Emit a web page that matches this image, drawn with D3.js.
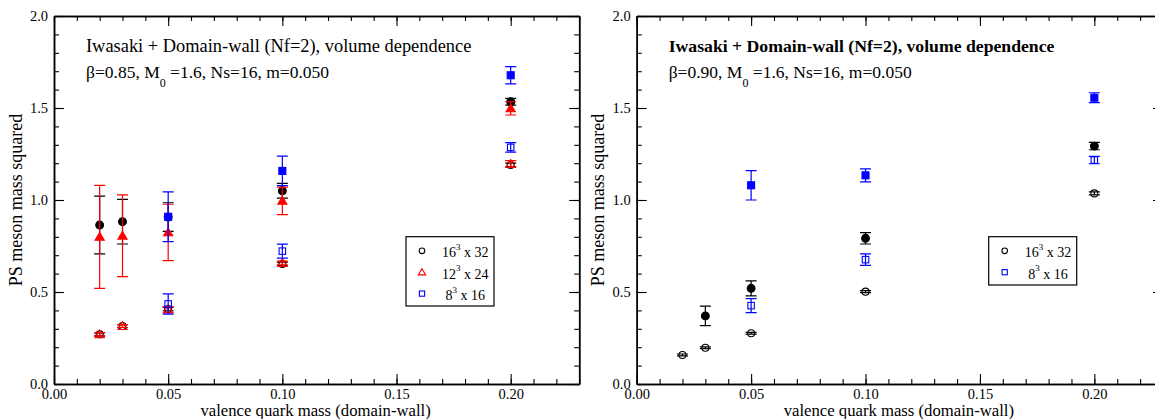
<!DOCTYPE html>
<html>
<head>
<meta charset="utf-8">
<script src="https://cdn.jsdelivr.net/npm/d3@7"></script>
<style>
body { margin: 0; background: #fff; }
svg { display: block; font-family: "Liberation Serif", "Times New Roman", serif; }
text { white-space: pre; }
</style>
</head>
<body>
<div id="chart"></div>
<script>

// valence quark masses
var mass5 = [0.02, 0.03, 0.05, 0.10, 0.20];
var mass4 = [0.03, 0.05, 0.10, 0.20];
var mass3 = [0.05, 0.10, 0.20];

// beta = 0.85
var b085_16_open = [0.270, 0.315, 0.408, 0.652, 1.190];
var b085_16_openErr = [0.008, 0.008, 0.010, 0.010, 0.010];
var b085_16_fill = [0.864, 0.882, 0.907, 1.050, 1.534];
var b085_16_fillErr = [0.157, 0.121, 0.078, 0.040, 0.018];
var b085_12_open = [0.270, 0.315, 0.405, 0.658, 1.196];
var b085_12_openErr = [0.010, 0.008, 0.015, 0.010, 0.018];
var b085_12_fill = [0.800, 0.806, 0.824, 0.995, 1.498];
var b085_12_fillErr = [0.280, 0.222, 0.153, 0.075, 0.036];
var b085_8_open = [0.435, 0.722, 1.286];
var b085_8_openErr = [0.055, 0.038, 0.026];
var b085_8_fill = [0.909, 1.158, 1.678];
var b085_8_fillErr = [0.135, 0.080, 0.047];

// beta = 0.90
var b090_16_open = [0.158, 0.197, 0.276, 0.502, 1.036];
var b090_16_openErr = [0.005, 0.005, 0.005, 0.005, 0.008];
var b090_16_fill = [0.370, 0.520, 0.792, 1.293];
var b090_16_fillErr = [0.053, 0.041, 0.031, 0.020];
var b090_8_open = [0.426, 0.676, 1.217];
var b090_8_openErr = [0.038, 0.031, 0.020];
var b090_8_fill = [1.080, 1.134, 1.556];
var b090_8_fillErr = [0.080, 0.035, 0.027];

// axis ticks
var xMajor = [0, 0.05, 0.10, 0.15, 0.20];
var xMinor = d3.range(0, 24).map(function(i){ return i / 100; });
var yMajor = [0, 0.5, 1.0, 1.5, 2.0];
var yMinor = d3.range(0, 21).map(function(i){ return i / 10; });

var BLACK = "#000000", RED = "#ff0000", BLUE = "#0000ff";

function sets(x, y, e) {
    return x.map(function(d, i){ return { x: d, y: y[i], e: e[i] }; });
}

var width = 1155;
var height = 419;

var svg = d3.select("#chart")
    .append("svg")
    .attr("width", width)
    .attr("height", height);


function MassPlot(opts) {

    var chart = this;
    chart.g = svg.append("g");

    chart.xScale = d3.scaleLinear().domain([0, 0.23]).range([opts.left, opts.right]);
    chart.yScale = d3.scaleLinear().domain([0, 2]).range([384, 16]);

    var x0 = opts.left, x1 = opts.right, y0 = 384, y1 = 16;

    // minor ticks
    chart.axis(d3.axisBottom(chart.xScale).tickValues(xMinor).tickSizeInner(-5).tickSizeOuter(0).tickFormat(""), 0, y0);
    chart.axis(d3.axisTop(chart.xScale).tickValues(xMinor).tickSizeInner(-5).tickSizeOuter(0).tickFormat(""), 0, y1);
    chart.axis(d3.axisLeft(chart.yScale).tickValues(yMinor).tickSizeInner(-5).tickSizeOuter(0).tickFormat(""), x0, 0);
    chart.axis(d3.axisRight(chart.yScale).tickValues(yMinor).tickSizeInner(-5).tickSizeOuter(0).tickFormat(""), x1, 0);

    // major ticks + labels
    chart.axis(d3.axisBottom(chart.xScale).tickValues(xMajor).tickSizeInner(-10).tickSizeOuter(0).tickPadding(5).tickFormat(d3.format(".2f")), 0, y0);
    chart.axis(d3.axisTop(chart.xScale).tickValues(xMajor).tickSizeInner(-10).tickSizeOuter(0).tickFormat(""), 0, y1);
    chart.axis(d3.axisLeft(chart.yScale).tickValues(yMajor).tickSizeInner(-10).tickSizeOuter(0).tickPadding(6).tickFormat(d3.format(".1f")), x0, 0);
    chart.axis(d3.axisRight(chart.yScale).tickValues(yMajor).tickSizeInner(-10).tickSizeOuter(0).tickFormat(""), x1, 0);

    chart.g.selectAll(".domain").attr("stroke-width", 1.5);

    // axis titles
    chart.g.append("text")
        .attr("transform", "rotate(-90)")
        .attr("x", -200)
        .attr("y", x0 - 32.5)
        .attr("text-anchor", "middle")
        .attr("font-size", 18)
        .text("PS meson mass squared");

    chart.g.append("text")
        .attr("x", (x0 + x1) / 2 - 1)
        .attr("y", 416)
        .attr("text-anchor", "middle")
        .attr("font-size", 16.7)
        .text("valence quark mass (domain-wall)");

    // headline
    chart.g.append("text")
        .attr("x", x0 + 32)
        .attr("y", 51.7)
        .attr("font-size", opts.bold ? 17.7 : 18.4)
        .attr("font-weight", opts.bold ? "bold" : "normal")
        .text("Iwasaki + Domain-wall (Nf=2), volume dependence");

    var sub = chart.g.append("text")
        .attr("x", x0 + 32)
        .attr("y", 77.5)
        .attr("font-size", 17.5);
    sub.append("tspan").text("\u03b2=" + opts.beta + ", M");
    sub.append("tspan").attr("dy", 9.5).attr("font-size", 12).text("0");
    sub.append("tspan").attr("dy", -9.5).text(" =1.6, Ns=16, m=0.050");

    // data
    opts.series.forEach(function(s){ chart.drawSet(s); });

    // legend
    var lx = x0 + 352, ly = 236.7;
    var rows = opts.legend;
    chart.g.append("rect")
        .attr("x", lx)
        .attr("y", ly)
        .attr("width", 88)
        .attr("height", rows.length === 3 ? 69.3 : 48.3)
        .attr("fill", "#fff")
        .attr("stroke", "#000")
        .attr("stroke-width", 1.2);

    rows.forEach(function(r, i){
        var by = ly + 20.6 + i * 21.4;
        chart.marker(chart.g, r.shape, lx + 16, by - 6.5, r.color, false, 0.8);
        var t = chart.g.append("text")
            .attr("x", lx + 36)
            .attr("y", by)
            .attr("font-size", 14);
        t.append("tspan").text(r.L);
        t.append("tspan").attr("dy", -7.3).attr("font-size", 9).text("3");
        t.append("tspan").attr("dy", 7.3).text(" x " + r.T);
    });
}

MassPlot.prototype.axis = function (ax, tx, ty) {
    var g = this.g.append("g")
        .attr("transform", "translate(" + tx + "," + ty + ")")
        .call(ax);
    g.attr("font-family", null).attr("font-size", 14.5);
    g.selectAll("text").attr("fill", "#000");
    g.selectAll("line").attr("stroke", "#000").attr("stroke-width", 1.1);
    g.selectAll(".domain").attr("stroke", "#000");
    return g;
};

MassPlot.prototype.marker = function (g, shape, cx, cy, color, filled, scale) {
    var k = scale || 1;
    var m;
    if (shape === "circle") {
        m = g.append("circle").attr("cx", cx).attr("cy", cy).attr("r", (filled ? 3.9 : 3.5) * k);
    } else if (shape === "square") {
        var s = (filled ? 7 : 6.5) * k;
        m = g.append("rect").attr("x", cx - s / 2).attr("y", cy - s / 2).attr("width", s).attr("height", s);
    } else {
        var w = 4.6 * k, h1 = 4.4 * k, h2 = 3.4 * k;
        m = g.append("path").attr("d", "M" + cx + "," + (cy - h1) + "L" + (cx + w) + "," + (cy + h2) + "L" + (cx - w) + "," + (cy + h2) + "Z");
    }
    m.attr("fill", filled ? color : "none")
        .attr("stroke", color)
        .attr("stroke-width", 1.1);
};

MassPlot.prototype.drawSet = function (s) {
    var chart = this;
    var g = chart.g.append("g");
    var pts = sets(s.x, s.y, s.e);

    g.selectAll(".bar")
        .data(pts).enter()
        .append("path")
        .attr("class", "bar")
        .attr("fill", "none")
        .attr("stroke", s.color)
        .attr("stroke-width", 1.2)
        .attr("d", function(d){
            var cx = chart.xScale(d.x);
            var yt = chart.yScale(d.y + d.e), yb = chart.yScale(d.y - d.e);
            return "M" + cx + "," + yt + "V" + yb +
                "M" + (cx - 5.5) + "," + yt + "H" + (cx + 5.5) +
                "M" + (cx - 5.5) + "," + yb + "H" + (cx + 5.5);
        });

    pts.forEach(function(d){
        chart.marker(g, s.shape, chart.xScale(d.x), chart.yScale(d.y), s.color, s.filled);
    });
};


new MassPlot({
    left: 54, right: 579.2, beta: "0.85", bold: false,
    series: [
        { x: mass5, y: b085_16_open, e: b085_16_openErr, shape: "circle", color: BLACK, filled: false },
        { x: mass5, y: b085_16_fill, e: b085_16_fillErr, shape: "circle", color: BLACK, filled: true },
        { x: mass5, y: b085_12_open, e: b085_12_openErr, shape: "triangle", color: RED, filled: false },
        { x: mass5, y: b085_12_fill, e: b085_12_fillErr, shape: "triangle", color: RED, filled: true },
        { x: mass3, y: b085_8_open, e: b085_8_openErr, shape: "square", color: BLUE, filled: false },
        { x: mass3, y: b085_8_fill, e: b085_8_fillErr, shape: "square", color: BLUE, filled: true }
    ],
    legend: [
        { shape: "circle", color: BLACK, L: "16", T: "32" },
        { shape: "triangle", color: RED, L: "12", T: "24" },
        { shape: "square", color: BLUE, L: " 8", T: "16" }
    ]
});

new MassPlot({
    left: 636.7, right: 1163, beta: "0.90", bold: true,
    series: [
        { x: mass5, y: b090_16_open, e: b090_16_openErr, shape: "circle", color: BLACK, filled: false },
        { x: mass4, y: b090_16_fill, e: b090_16_fillErr, shape: "circle", color: BLACK, filled: true },
        { x: mass3, y: b090_8_open, e: b090_8_openErr, shape: "square", color: BLUE, filled: false },
        { x: mass3, y: b090_8_fill, e: b090_8_fillErr, shape: "square", color: BLUE, filled: true }
    ],
    legend: [
        { shape: "circle", color: BLACK, L: "16", T: "32" },
        { shape: "square", color: BLUE, L: " 8", T: "16" }
    ]
});

</script>
</body>
</html>
